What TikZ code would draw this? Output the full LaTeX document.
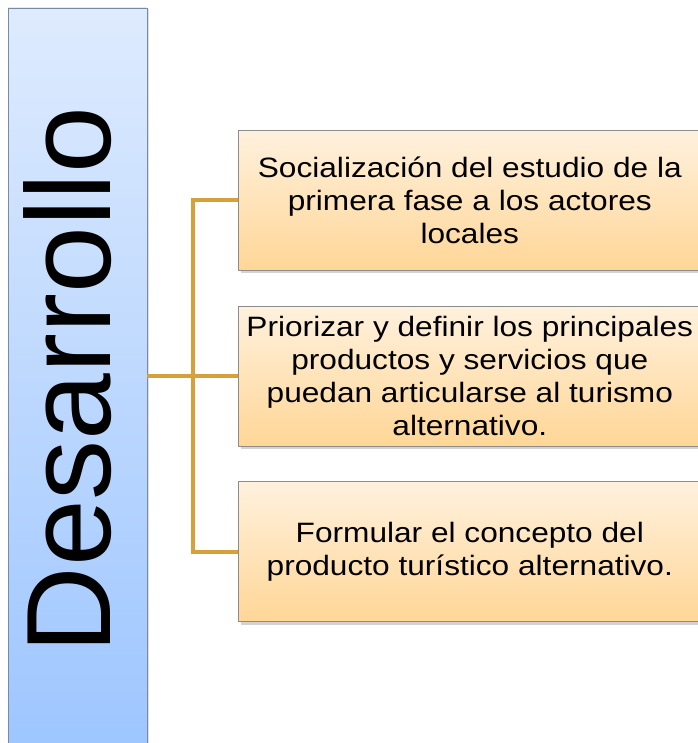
\documentclass[tikz,border=0pt]{standalone}
\usepackage{fontspec}
\setmainfont{Liberation Sans}
\newfontfamily\boxfont[FakeStretch=1.13]{Liberation Sans}
\usepackage{tikz}
\usetikzlibrary{positioning,calc,shadows}
\usepackage{xcolor}
\definecolor{cBlueTop}{RGB}{222,235,254}
\definecolor{cBlueBot}{RGB}{158,198,255}
\definecolor{cOrTop}{RGB}{255,241,222}
\definecolor{cOrBot}{RGB}{255,214,150}
\definecolor{cLine}{RGB}{214,160,58}
\definecolor{cEdge}{RGB}{140,140,140}
\definecolor{cBlueEdge}{RGB}{120,138,165}
\tikzset{
  basebox/.style={rectangle,align=center,inner sep=4pt},
  bluebar/.style={basebox,draw=cBlueEdge,line width=0.8pt,
                  top color=cBlueTop,bottom color=cBlueBot,
                  minimum width=139pt,minimum height=736pt,
                  drop shadow={shadow xshift=2pt,shadow yshift=-1pt,opacity=0.25}},
  orangenode/.style={basebox,draw=cEdge,line width=0.8pt,
                  top color=cOrTop,bottom color=cOrBot,
                  minimum width=462pt,minimum height=140pt,
                  font=\boxfont\fontsize{28}{33}\selectfont,
                  drop shadow={shadow xshift=2.5pt,shadow yshift=-3pt,opacity=0.35}},
  conn/.style={line width=4pt,color=cLine}
}
\begin{document}
\begin{tikzpicture}[x=1pt,y=1pt,node distance=35pt and 91pt]

  \useasboundingbox (0,0) rectangle (697,-743);

  % Left bar: Desarrollo
  \node[bluebar] (dev) at (77.5,-376)
      {\fontsize{120}{120}\selectfont\rotatebox{90}{\rule[-20pt]{0pt}{20pt}Desarrollo\hspace{8pt}}};

  % Steps
  \node[orangenode, right=of dev] (prio)
      {Priorizar y definir los principales\\
       productos y servicios que\\
       puedan articularse al turismo\\
       alternativo.};

  \node[orangenode, above=of prio] (social)
      {Socialización del estudio de la\\
       primera fase a los actores\\
       locales};

  \node[orangenode, below=of prio] (concept)
      {Formular el concepto del\\
       producto turístico alternativo.};

  % Connectors
  \coordinate (trunk) at ($(dev.east)!0.5!(prio.west)$);
  \draw[conn] (dev.east) -- (prio.west);
  \draw[conn] (social.west) -| (trunk) |- (concept.west);

\end{tikzpicture}
\end{document}
